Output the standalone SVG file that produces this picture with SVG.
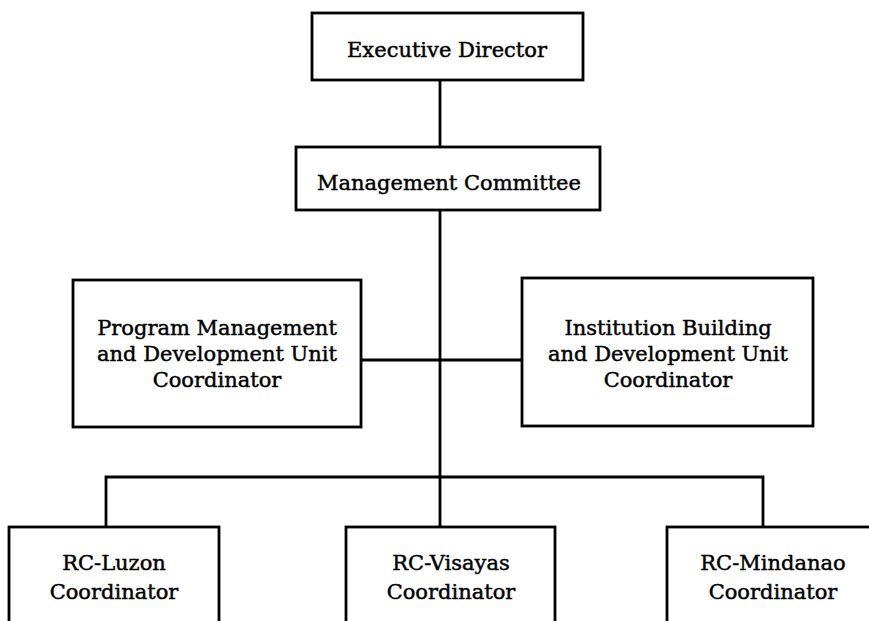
<svg xmlns="http://www.w3.org/2000/svg" width="869" height="621" viewBox="0 0 869 621">
  <style>
    .box { fill: #ffffff; stroke: #000000; stroke-width: 2.8; }
    .wire { fill: none; stroke: #000000; stroke-width: 2.8; }
    .lbl { font-family: "DejaVu Serif", "Liberation Serif", serif; font-size: 21px; fill: #000000; stroke: #000000; stroke-width: 0.45; text-anchor: middle; }
  </style>
  <rect width="869" height="621" fill="#ffffff"/>

  <!-- reporting lines -->
  <g id="connectors">
    <line class="wire" x1="440" y1="80" x2="440" y2="147"/>
    <line class="wire" x1="440" y1="210" x2="440" y2="527"/>
    <line class="wire" x1="361" y1="360" x2="522" y2="360"/>
    <polyline class="wire" points="106,527 106,477 763,477 763,527"/>
  </g>

  <g id="executive-director">
    <rect class="box" x="312" y="13" width="271" height="67"/>
    <text class="lbl" x="447" y="57">Executive Director</text>
  </g>

  <g id="management-committee">
    <rect class="box" x="296" y="147" width="304" height="63"/>
    <text class="lbl" x="449" y="190">Management Committee</text>
  </g>

  <g id="program-management">
    <rect class="box" x="73" y="280" width="288" height="147"/>
    <text class="lbl" x="217" y="335">Program Management</text>
    <text class="lbl" x="217" y="361">and Development Unit</text>
    <text class="lbl" x="217" y="387">Coordinator</text>
  </g>

  <g id="institution-building">
    <rect class="box" x="522" y="278" width="291" height="148"/>
    <text class="lbl" x="668" y="335">Institution Building</text>
    <text class="lbl" x="668" y="361">and Development Unit</text>
    <text class="lbl" x="668" y="387">Coordinator</text>
  </g>

  <g id="rc-luzon">
    <rect class="box" x="9" y="527" width="210" height="110"/>
    <text class="lbl" x="114" y="570">RC-Luzon</text>
    <text class="lbl" x="114" y="599">Coordinator</text>
  </g>

  <g id="rc-visayas">
    <rect class="box" x="346" y="527" width="209" height="110"/>
    <text class="lbl" x="451" y="570">RC-Visayas</text>
    <text class="lbl" x="451" y="599">Coordinator</text>
  </g>

  <g id="rc-mindanao">
    <rect class="box" x="667" y="527" width="215" height="110"/>
    <text class="lbl" x="773" y="570">RC-Mindanao</text>
    <text class="lbl" x="773" y="599">Coordinator</text>
  </g>
</svg>
